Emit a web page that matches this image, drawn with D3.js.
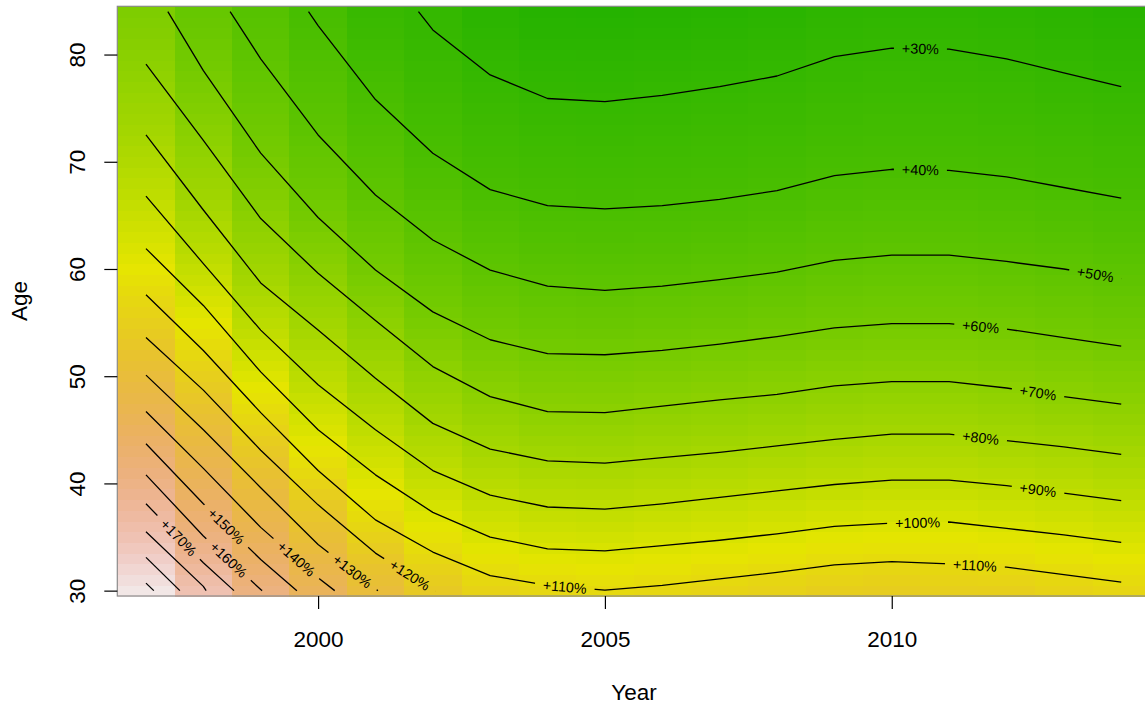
<!DOCTYPE html>
<html>
<head>
<meta charset="utf-8">
<script src="https://cdn.jsdelivr.net/npm/d3@7"></script>
<style>
  body { margin: 0; background: #ffffff; }
  svg text { font-family: "Liberation Sans", Arial, Helvetica, sans-serif; }
</style>
</head>
<body>
<svg id="chart" width="1145" height="711"></svg>
<script>
// ---------------- DATA ----------------
const years = [1997, 1998, 1999, 2000, 2001, 2002, 2003, 2004, 2005,
               2006, 2007, 2008, 2009, 2010, 2011, 2012, 2013, 2014];
const ageMin = 30, ageMax = 84;
const levels = [30, 40, 50, 60, 70, 80, 90, 100, 110, 120, 130, 140, 150, 160, 170, 180, 190, 200];

// Age at which each contour level (% increase) crosses each year's column (null = no crossing)
const ages30  = [null, null, null, null, null, 82.3, 78.1, 75.9, 75.6, 76.2, 77.0, 78.0, 79.8, 80.6, 80.5, 79.6, 78.3, 77.0];
const ages40  = [null, null, null, 82.7, 75.8, 70.8, 67.4, 65.9, 65.6, 65.9, 66.5, 67.3, 68.7, 69.3, 69.2, 68.6, 67.6, 66.6];
const ages50  = [null, null, 79.6, 72.5, 66.9, 62.7, 59.9, 58.4, 58.0, 58.4, 59.0, 59.7, 60.8, 61.3, 61.3, 60.7, 60.0, 59.1];
const ages60  = [null, 78.5, 70.8, 64.8, 59.9, 56.0, 53.4, 52.1, 52.0, 52.4, 53.0, 53.7, 54.5, 54.9, 54.9, 54.4, 53.6, 52.8];
const ages70  = [79.1, 72.0, 64.7, 59.6, 55.2, 50.9, 48.1, 46.7, 46.6, 47.2, 47.8, 48.3, 49.1, 49.5, 49.5, 48.9, 48.1, 47.4];
const ages80  = [72.5, 65.5, 58.7, 54.3, 49.8, 45.6, 43.2, 42.1, 41.9, 42.4, 42.9, 43.5, 44.1, 44.6, 44.6, 44.0, 43.4, 42.7];
const ages90  = [66.8, 60.5, 54.3, 49.2, 45.0, 41.2, 38.9, 37.8, 37.6, 38.1, 38.7, 39.3, 39.9, 40.3, 40.3, 39.8, 39.1, 38.4];
const ages100 = [61.9, 56.6, 50.4, 45.0, 40.8, 37.3, 35.0, 33.9, 33.7, 34.2, 34.7, 35.3, 36.0, 36.3, 36.4, 35.8, 35.2, 34.5];
const ages110 = [57.6, 52.4, 46.6, 41.2, 36.6, 33.6, 31.4, 30.5, 30.05, 30.5, 31.1, 31.7, 32.4, 32.7, 32.5, 32.2, 31.5, 30.8];
const ages120 = [53.6, 48.7, 43.1, 38.0, 33.5, 30.1, null, null, null, null, null, null, null, null, null, null, null, null];
const ages130 = [50.1, 45.0, 39.6, 34.3, 30.15, null, null, null, null, null, null, null, null, null, null, null, null, null];
const ages140 = [46.7, 41.4, 35.9, 31.2, null, null, null, null, null, null, null, null, null, null, null, null, null, null];
const ages150 = [43.7, 38.1, 32.9, null, null, null, null, null, null, null, null, null, null, null, null, null, null, null];
const ages160 = [40.8, 35.1, 30.1, null, null, null, null, null, null, null, null, null, null, null, null, null, null, null];
const ages170 = [38.1, 32.6, null, null, null, null, null, null, null, null, null, null, null, null, null, null, null, null];
const ages180 = [35.5, 30.4, null, null, null, null, null, null, null, null, null, null, null, null, null, null, null, null];
const ages190 = [33.1, null, null, null, null, null, null, null, null, null, null, null, null, null, null, null, null, null];
const ages200 = [30.7, null, null, null, null, null, null, null, null, null, null, null, null, null, null, null, null, null];
const levelAges = [ages30, ages40, ages50, ages60, ages70, ages80, ages90, ages100, ages110,
                   ages120, ages130, ages140, ages150, ages160, ages170, ages180, ages190, ages200];

// Value (% increase) at the youngest (30) and oldest (84) age of each year
const valueAtAge30 = [203, 181, 160.4, 143.9, 130.45, 120.3, 113.9, 111.5, 110.15,
                      111.35, 113.05, 114.7, 116.7, 117.5, 116.4, 116.1, 114.05, 112.2];
const valueAtAge84 = [64, 53.5, 46, 38.8, 31.5, 29.5, 24.5, 21.9, 21.6,
                      22.4, 23.3, 24.4, 26.2, 27.0, 26.9, 26.0, 24.7, 23.3];

// Contour labels: level and the year at which the label sits on its line
const labelLevels = [30, 40, 50, 60, 70, 80, 90, 100, 110, 110, 120, 130, 140, 150, 160, 170];
const labelYears  = [2010.5, 2010.5, 2013.55, 2011.55, 2012.55, 2011.55, 2012.55, 2010.45, 2011.45,
                     2004.3, 2001.6, 2000.6, 1999.62, 1998.4, 1998.44, 1997.57];

const xTicks = [2000, 2005, 2010];
const yTicks = [30, 40, 50, 60, 70, 80];
const colorMax = 208;   // top of the colour scale (bottom is 0)

// ---------------- CHART ----------------
const W = 1145, H = 711;
const FS = 22.5;
const svg = d3.select("#chart");
const x = d3.scaleLinear().domain([1996.5, 2014.5]).range([117.3, 1149.9]);
const y = d3.scaleLinear().domain([29.5, 84.5]).range([596, 6.3]);

// R terrain.colors as a continuous ramp
function terrain(t) {
  t = Math.max(0, Math.min(1, t));
  let h, s, v;
  if (t <= 0.5) { const u = t / 0.5; h = 1/3 - u/6; s = 1; v = 0.65 + 0.25*u; }
  else { const u = (t - 0.5) / 0.5; h = 1/6 - u/6; s = 1 - u; v = 0.9 + 0.05*u; }
  const i = Math.floor(h*6), f = h*6 - i;
  const p = v*(1-s), q = v*(1-f*s), r = v*(1-(1-f)*s);
  let R, G, B;
  switch (((i % 6) + 6) % 6) {
    case 0: R=v; G=r; B=p; break;
    case 1: R=q; G=v; B=p; break;
    case 2: R=p; G=v; B=r; break;
    case 3: R=p; G=q; B=v; break;
    case 4: R=r; G=p; B=v; break;
    default: R=v; G=p; B=q;
  }
  return d3.rgb(R*255, G*255, B*255);
}
const color = v => terrain(v / colorMax);

function columnKnots(i) {
  const k = [[ageMin, valueAtAge30[i]]];
  levels.forEach((L, j) => { const a = levelAges[j][i]; if (a != null) k.push([a, L]); });
  k.push([ageMax, valueAtAge84[i]]);
  k.sort((p, q) => p[0] - q[0]);
  return k;
}
function valueAt(knots, a) {
  for (let n = 0; n < knots.length - 1; n++) {
    const [a0, v0] = knots[n], [a1, v1] = knots[n+1];
    if (a >= a0 && a <= a1) return a1 === a0 ? v0 : v0 + (v1 - v0) * (a - a0) / (a1 - a0);
  }
  return knots[knots.length-1][1];
}

// heat-map cells
const cells = [];
const ageRows = d3.range(ageMin, ageMax + 1);
years.forEach((yr, i) => {
  const k = columnKnots(i);
  ageRows.forEach(a => cells.push({yr, a, v: valueAt(k, a)}));
});
svg.append("g").selectAll("rect").data(cells).join("rect")
  .attr("x", d => x(d.yr - 0.5))
  .attr("y", d => y(d.a + 0.5))
  .attr("width", d => x(d.yr + 0.5) - x(d.yr - 0.5) + 0.6)
  .attr("height", d => y(d.a - 0.5) - y(d.a + 0.5) + 0.6)
  .attr("fill", d => color(d.v))
  .attr("shape-rendering", "crispEdges");

// contour lines
function edgeCross(i0, i1, L) {
  const b0 = valueAtAge30[i0], b1 = valueAtAge30[i1];
  if ((b0 - L) * (b1 - L) < 0) return [years[i0] + (b0 - L) / (b0 - b1), ageMin];
  const t0 = valueAtAge84[i0], t1 = valueAtAge84[i1];
  if ((t0 - L) * (t1 - L) < 0) return [years[i0] + (t0 - L) / (t0 - t1), ageMax];
  return null;
}
function contourSegments(j) {
  const L = levels[j], ag = levelAges[j];
  const segs = []; let cur = null;
  for (let i = 0; i < years.length; i++) {
    const a = ag[i];
    if (a != null) {
      if (!cur) {
        cur = []; segs.push(cur);
        if (i > 0) { const e = edgeCross(i-1, i, L); if (e) cur.push(e); }
      }
      cur.push([years[i], a]);
    } else if (cur) {
      const e = edgeCross(i-1, i, L); if (e) cur.push(e);
      cur = null;
    }
  }
  return segs;
}
const contourData = [];
levels.forEach((L, j) => contourSegments(j).forEach(s => contourData.push({L, pts: s})));

const line = d3.line().x(d => x(d[0])).y(d => y(d[1]));

// labels: locate point and direction on the contour
function labelPos(L, yr) {
  const segs = contourData.filter(c => c.L === L);
  for (const c of segs) {
    const p = c.pts;
    for (let n = 0; n < p.length - 1; n++) {
      if (yr >= p[n][0] && yr <= p[n+1][0]) {
        const f = (yr - p[n][0]) / (p[n+1][0] - p[n][0]);
        const a = p[n][1] + f * (p[n+1][1] - p[n][1]);
        const dx = x(p[n+1][0]) - x(p[n][0]), dy = y(p[n+1][1]) - y(p[n][1]);
        return {px: x(yr), py: y(a), ang: Math.atan2(dy, dx) * 180 / Math.PI};
      }
    }
  }
  return null;
}
const labels = labelLevels.map((L, i) => Object.assign({L, text: "+" + L + "%"}, labelPos(L, labelYears[i])));

const defs = svg.append("defs");
const mask = defs.append("mask").attr("id", "gaps")
  .attr("maskUnits", "userSpaceOnUse").attr("x", 0).attr("y", 0).attr("width", W).attr("height", H);
mask.append("rect").attr("width", W).attr("height", H).attr("fill", "#fff");

const labG = svg.append("g");
const labText = labG.selectAll("text").data(labels).join("text")
  .attr("transform", d => `translate(${d.px},${d.py}) rotate(${d.ang})`)
  .attr("text-anchor", "middle")
  .attr("dy", "0.36em")
  .attr("font-size", 14.3)
  .attr("fill", "#000")
  .text(d => d.text);
labText.each(function(d) { d.w = this.getComputedTextLength(); });
mask.selectAll("rect.g").data(labels).join("rect").attr("class", "g")
  .attr("transform", d => `translate(${d.px},${d.py}) rotate(${d.ang})`)
  .attr("x", d => -d.w/2 - 8).attr("y", -7.5)
  .attr("width", d => d.w + 16).attr("height", 15)
  .attr("fill", "#000");

svg.insert("g", () => labG.node())
  .attr("mask", "url(#gaps)")
  .selectAll("path").data(contourData).join("path")
  .attr("d", d => line(d.pts))
  .attr("fill", "none")
  .attr("stroke", "#000")
  .attr("stroke-width", 1.3)
  .attr("stroke-linejoin", "round");

// plot frame
svg.append("rect")
  .attr("x", x(1996.5)).attr("y", y(84.5))
  .attr("width", x(2014.5) - x(1996.5)).attr("height", y(29.5) - y(84.5))
  .attr("fill", "none").attr("stroke", "#8c8c8c").attr("stroke-width", 1.2);

// axes
const xAxis = svg.append("g").attr("transform", `translate(0,${y(29.5)})`)
  .call(d3.axisBottom(x).tickValues(xTicks).tickFormat(d3.format("d")).tickSize(13));
xAxis.select(".domain").remove();
xAxis.selectAll("line").attr("stroke", "#000").attr("stroke-width", 1.2);
xAxis.selectAll("text").attr("y", 50.7).attr("dy", null)
  .attr("font-size", FS).attr("fill", "#000")
  .style("font-family", "'Liberation Sans', Arial, sans-serif");

const yAxis = svg.append("g").attr("transform", `translate(${x(1996.5)},0)`)
  .call(d3.axisLeft(y).tickValues(yTicks).tickSize(13));
yAxis.select(".domain").remove();
yAxis.selectAll("line").attr("stroke", "#000").attr("stroke-width", 1.2);
yAxis.selectAll("text")
  .attr("x", null).attr("dy", null)
  .attr("text-anchor", "middle")
  .attr("transform", `translate(-32.5,0) rotate(-90)`)
  .attr("font-size", FS).attr("fill", "#000")
  .style("font-family", "'Liberation Sans', Arial, sans-serif");

svg.append("text").attr("x", 634).attr("y", 700).attr("text-anchor", "middle")
  .attr("font-size", FS).text("Year");
svg.append("text").attr("transform", "translate(27,301) rotate(-90)")
  .attr("text-anchor", "middle").attr("font-size", FS).text("Age");
</script>
</body>
</html>
